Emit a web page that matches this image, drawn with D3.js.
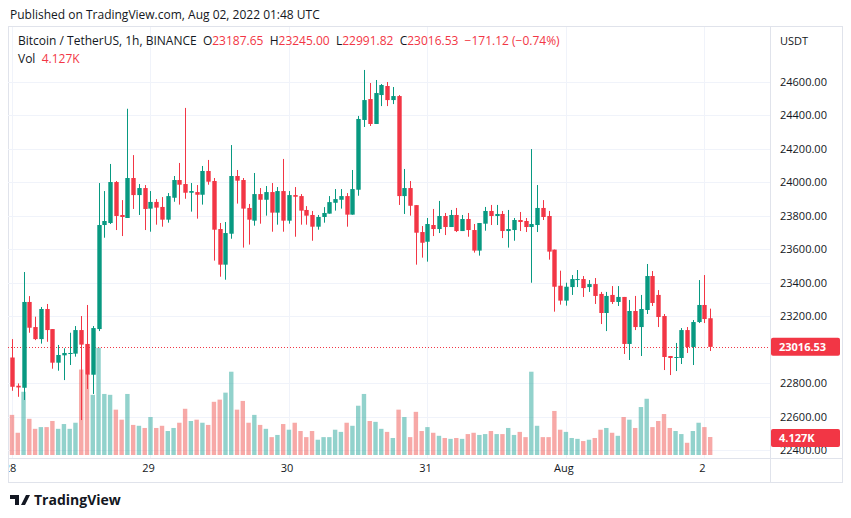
<!DOCTYPE html>
<html>
<head>
<meta charset="utf-8">
<script src="https://cdn.jsdelivr.net/npm/d3@7"></script>
<style>
  body { margin: 0; background: #fff; font-family: "Open Sans", "Noto Sans", sans-serif; }
</style>
</head>
<body>
<svg id="chart" width="851" height="518"></svg>
<script>
// hourly candles, Jul 28 00:00 UTC -> Aug 2 01:00 UTC
const startTime = Date.UTC(2022, 6, 28, 0);
const opens = [22953,22784,22772,23285,23135,23063,23243,23123,22922,22966,22976,22976,23117,23034,22850,23123,23745,23757,24002,23805,
  23787,24026,23924,23966,23843,23883,23853,23777,23908,24014,23990,23938,23942,23926,24068,24008,23721,23508,23693,24038,
  24014,23847,23771,23930,23896,23942,23819,23948,23771,23924,23918,23835,23805,23735,23793,23813,23878,23896,23918,23807,
  23956,24373,24498,24349,24522,24576,24492,24516,23918,23966,23864,23703,23645,23745,23721,23799,23733,23805,23709,23781,
  23715,23592,23753,23829,23799,23811,23709,23715,23775,23769,23733,23745,23847,23799,23598,23382,23293,23374,23416,23422,
  23374,23392,23333,23219,23327,23285,23315,23034,23231,23135,23237,23440,23327,23201,22962,22950,22950,23117,23016,23165,
  23267,23187.65];
const closes = [22778,22774,23285,23131,23063,23243,23117,22922,22968,22980,22980,23117,23030,22850,23129,23745,23769,24002,23799,23793,
  24026,23924,23966,23841,23883,23849,23777,23918,24014,23986,23938,23948,23926,24068,24004,23717,23508,23697,24038,24010,
  23843,23777,23930,23896,23942,23819,23948,23771,23924,23914,23831,23801,23735,23793,23817,23882,23900,23918,23807,23960,
  24379,24492,24349,24534,24582,24492,24516,23918,23966,23860,23699,23639,23751,23721,23799,23733,23805,23709,23781,23715,
  23592,23757,23829,23799,23811,23709,23721,23775,23763,23733,23751,23847,23793,23586,23376,23293,23376,23422,23422,23368,
  23392,23321,23219,23321,23285,23315,23034,23231,23135,23243,23440,23279,23195,22956,22950,22956,23117,23016,23165,23267,
  23183,23016.53];
const highs = [23063,22798,23464,23320,23197,23255,23273,23123,23028,23008,23101,23141,23201,23267,23141,23996,23948,24110,24008,23894,
  24440,24163,23990,23984,23948,23900,23912,23936,24038,24116,24445,23996,23984,24098,24134,24026,23757,23763,24223,24074,
  24026,23871,24056,23966,23978,23996,23972,24140,23948,23972,23930,23858,23829,23805,23852,23918,23960,23960,23936,24074,
  24397,24672,24594,24612,24588,24600,24570,24522,24080,24008,23864,23739,23787,23841,23889,23817,23835,23847,23805,23817,
  23751,23757,23853,23865,23865,23829,23835,23787,23823,23787,24199,23984,23894,23829,23598,23472,23400,23446,23476,23440,
  23416,23428,23345,23345,23380,23380,23315,23297,23321,23327,23512,23470,23356,23213,22962,23040,23129,23135,23177,23416,
  23446,23245.00];
const lows = [22754,22718,22699,23101,23057,23036,23047,22886,22874,22818,22908,22958,22579,22765,22735,23111,23669,23751,23715,23679,
  23787,23841,23805,23715,23705,23747,23735,23759,23884,23867,23902,23825,23783,23867,23986,23532,23436,23418,23663,23873,
  23610,23628,23741,23753,23801,23705,23747,23705,23753,23675,23747,23747,23651,23717,23759,23813,23831,23843,23735,23807,
  23920,24331,24337,24349,24456,24456,24468,23865,23811,23801,23508,23550,23526,23679,23697,23685,23733,23703,23709,23675,
  23580,23562,23711,23745,23745,23667,23610,23651,23709,23703,23400,23703,23775,23538,23227,23269,23263,23327,23374,23315,
  23345,23273,23153,23111,23273,23261,22974,22938,23117,22962,23213,23261,23135,22878,22848,22872,22914,22980,22908,23159,
  23159,22991.82];
// volume in thousands of BTC
const volumes = [9.2,5.1,14.5,8.3,6.0,6.4,6.4,7.8,6.0,7.1,6.0,7.4,19.6,18.4,13.8,24.6,14.0,13.8,10.4,8.1,
  14.0,6.9,6.7,6.2,8.7,6.2,6.7,5.5,6.2,7.4,10.6,7.8,8.1,7.4,6.9,12.2,12.7,14.3,19.1,10.4,
  12.4,7.4,9.2,6.9,6.0,4.1,4.6,7.1,5.8,7.4,5.5,4.1,5.5,3.5,4.1,4.1,5.8,5.3,7.4,6.7,
  11.3,14.0,7.8,7.6,6.0,5.3,3.9,10.4,8.7,4.1,9.9,5.5,6.4,5.1,4.4,3.9,3.7,3.9,3.7,4.8,
  5.1,4.6,4.8,5.5,4.8,4.8,6.2,4.6,5.3,4.1,19.1,6.7,4.1,4.1,10.1,5.8,5.3,3.9,3.7,3.2,
  3.5,3.9,5.8,6.2,5.1,4.4,8.7,8.1,6.2,11.0,12.9,6.4,7.8,9.4,6.2,5.5,4.8,2.8,5.5,7.4,
  6.4,4.127];
const priceTicks = [22400,22600,22800,23200,23400,23600,23800,24000,24200,24400,24600];
const dayTicks = [
  { t: Date.UTC(2022, 6, 28), label: "28" },
  { t: Date.UTC(2022, 6, 29), label: "29" },
  { t: Date.UTC(2022, 6, 30), label: "30" },
  { t: Date.UTC(2022, 6, 31), label: "31" },
  { t: Date.UTC(2022, 7, 1), label: "Aug" },
  { t: Date.UTC(2022, 7, 2), label: "2" }
];

const up = "#089981", down = "#f23645";
const upVol = "rgba(38,166,154,0.5)", downVol = "rgba(239,83,80,0.5)";
const hour = 3600 * 1000;

const data = opens.map((o, i) => ({
  t: startTime + i * hour, o, c: closes[i], h: highs[i], l: lows[i], v: volumes[i]
}));

const svg = d3.select("#chart");
const plot = { left: 8, right: 770, top: 27, bottom: 458 };

const x = d3.scaleLinear()
  .domain([startTime, startTime + 121 * hour])
  .range([12, 12 + 121 * 5.77]);
const y = d3.scaleLinear().domain([22400, 24600]).range([450, 82]);
const yv = d3.scaleLinear().domain([0, 25]).range([455, 346]);

svg.append("text").attr("x", 10).attr("y", 19)
  .attr("font-size", 12).attr("fill", "#131722")
  .text("Published on TradingView.com, Aug 02, 2022 01:48 UTC");

const defs = svg.append("defs");
defs.append("clipPath").attr("id", "clip")
  .append("rect").attr("x", plot.left).attr("y", plot.top)
  .attr("width", plot.right - plot.left).attr("height", plot.bottom - plot.top);
defs.append("clipPath").attr("id", "clip2")
  .append("rect").attr("x", 9).attr("y", 458).attr("width", 761).attr("height", 25);

// frame
svg.append("rect").attr("x", 8.5).attr("y", 26.5).attr("width", 834).attr("height", 456)
  .attr("fill", "none").attr("stroke", "#e0e3eb");
svg.append("line").attr("x1", plot.right + 0.5).attr("x2", plot.right + 0.5)
  .attr("y1", 27).attr("y2", 483).attr("stroke", "#e0e3eb");
svg.append("line").attr("x1", 8).attr("x2", 843)
  .attr("y1", plot.bottom + 0.5).attr("y2", plot.bottom + 0.5).attr("stroke", "#e0e3eb");

const g = svg.append("g").attr("clip-path", "url(#clip)");

// grid
g.selectAll(".hgrid").data(priceTicks).join("line")
  .attr("x1", plot.left).attr("x2", plot.right)
  .attr("y1", d => Math.round(y(d)) + 0.5).attr("y2", d => Math.round(y(d)) + 0.5)
  .attr("stroke", "#f0f3fa");
g.selectAll(".vgrid").data(dayTicks).join("line")
  .attr("x1", d => Math.round(x(d.t)) + 0.5).attr("x2", d => Math.round(x(d.t)) + 0.5)
  .attr("y1", plot.top).attr("y2", plot.bottom)
  .attr("stroke", "#f0f3fa");

// volume
const bw = 4.4;
g.selectAll(".vol").data(data).join("rect")
  .attr("x", d => x(d.t) - bw / 2).attr("width", bw)
  .attr("y", d => yv(d.v)).attr("height", d => yv(0) - yv(d.v))
  .attr("fill", d => d.c >= d.o ? upVol : downVol);

// last price line
const last = data[data.length - 1];
g.append("line").attr("x1", plot.left).attr("x2", plot.right)
  .attr("y1", Math.round(y(last.c)) + 0.5).attr("y2", Math.round(y(last.c)) + 0.5)
  .attr("stroke", down).attr("stroke-dasharray", "1,2");

// candles
const candle = g.selectAll(".candle").data(data).join("g");
candle.append("line")
  .attr("x1", d => Math.round(x(d.t)) + 0.5).attr("x2", d => Math.round(x(d.t)) + 0.5)
  .attr("y1", d => y(d.h)).attr("y2", d => y(d.l))
  .attr("stroke", d => d.c >= d.o ? up : down);
candle.append("rect")
  .attr("x", d => Math.round(x(d.t)) + 0.5 - bw / 2).attr("width", bw)
  .attr("y", d => y(Math.max(d.o, d.c)))
  .attr("height", d => Math.max(1, Math.abs(y(d.o) - y(d.c))))
  .attr("fill", d => d.c >= d.o ? up : down);

// price axis
svg.append("text").attr("x", 780).attr("y", 45).attr("font-size", 11)
  .attr("fill", "#131722").text("USDT");
svg.selectAll(".plab").data(priceTicks).join("text")
  .attr("x", 780).attr("y", d => y(d) + 4).attr("font-size", 11)
  .attr("fill", "#131722").text(d => d3.format(".2f")(d));

// time axis
svg.append("g").attr("clip-path", "url(#clip2)")
  .selectAll("text").data(dayTicks).join("text")
  .attr("x", d => x(d.t) - 2).attr("y", 472).attr("font-size", 11)
  .attr("text-anchor", "middle").attr("fill", "#131722").text(d => d.label);

// price tags
function tag(yPos, label) {
  svg.append("rect").attr("x", 771).attr("y", yPos - 9).attr("width", 69).attr("height", 18)
    .attr("rx", 2).attr("fill", down);
  svg.append("text").attr("x", 779).attr("y", yPos + 4).attr("font-size", 11)
    .attr("font-weight", "bold").attr("fill", "#fff").text(label);
}
tag(y(last.c), "23016.53");
tag(yv(last.v) + 1, "4.127K");

// legend
const leg = svg.append("text").attr("x", 18).attr("y", 45).attr("font-size", 12)
  .attr("fill", "#131722").attr("xml:space", "preserve");
leg.append("tspan").text("Bitcoin / TetherUS, 1h, BINANCE  O");
leg.append("tspan").attr("fill", down).text("23187.65");
leg.append("tspan").text("  H");
leg.append("tspan").attr("fill", down).text("23245.00");
leg.append("tspan").text("  L");
leg.append("tspan").attr("fill", down).text("22991.82");
leg.append("tspan").text("  C");
leg.append("tspan").attr("fill", down).text("23016.53  −171.12 (−0.74%)");
const vl = svg.append("text").attr("x", 18).attr("y", 63).attr("font-size", 12)
  .attr("fill", "#131722").attr("xml:space", "preserve");
vl.append("tspan").text("Vol  ");
vl.append("tspan").attr("fill", down).text("4.127K");

// footer logo
svg.append("text").attr("x", 34).attr("y", 505).attr("font-size", 14)
  .attr("font-weight", "bold").attr("fill", "#131722").text("TradingView");
svg.append("path").attr("d", "M10 495h9v10h-4v-6h-5z M21 505l5-10h4l-5 10z")
  .attr("fill", "#131722");
</script>
</body>
</html>
